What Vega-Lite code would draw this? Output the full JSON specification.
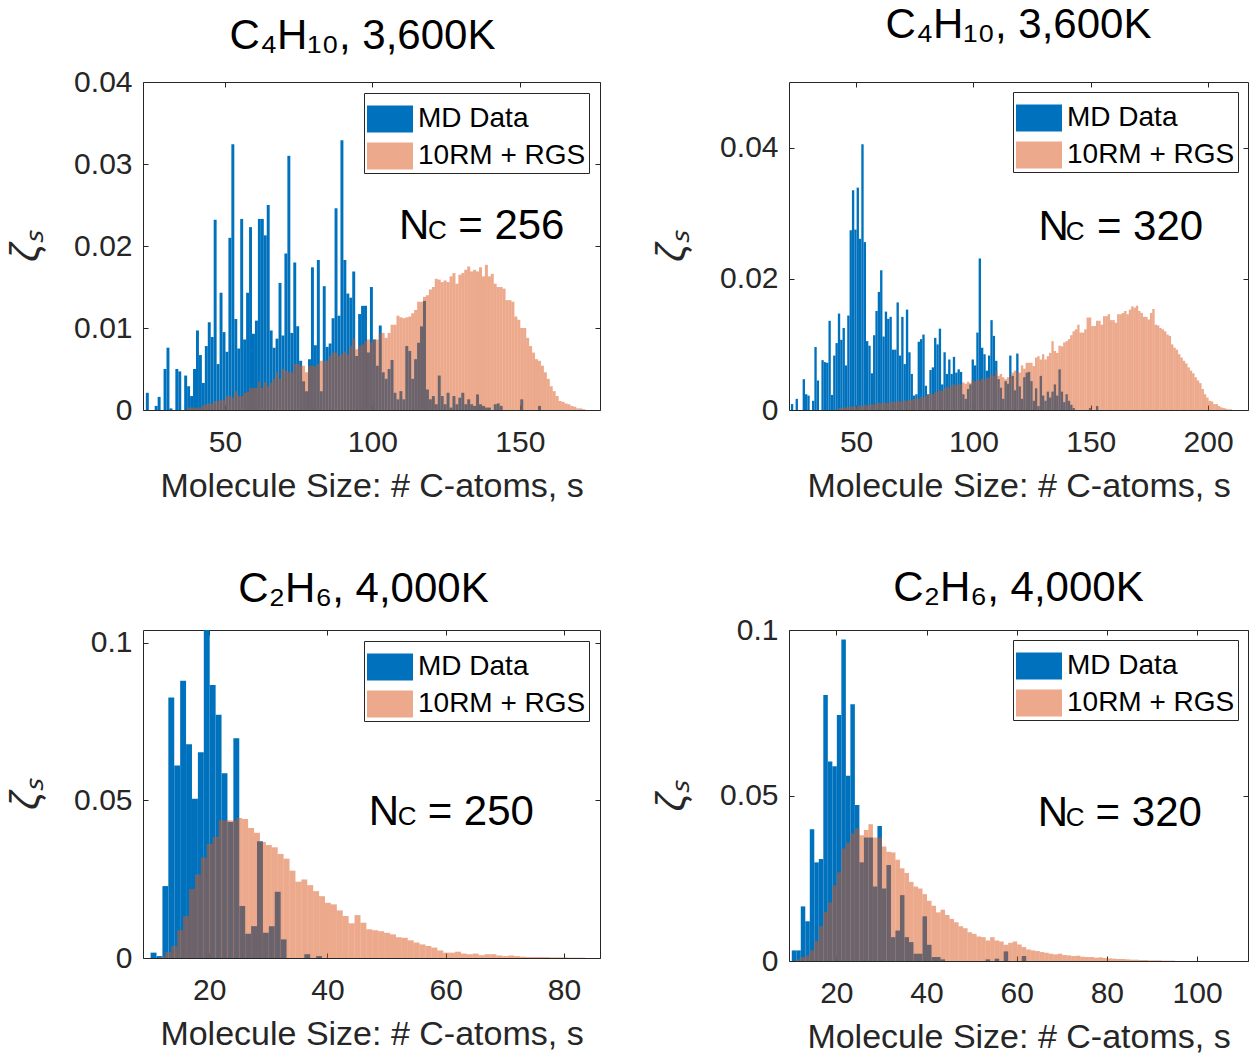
{
  "$schema": "https://vega.github.io/schema/vega-lite/v6.json",
  "background": "white",
  "padding": {"left": 6, "top": 3, "right": 0, "bottom": 0},
  "bounds": "flush",
  "columns": 2,
  "spacing": {"row": 220, "column": 189},
  "config": {
    "font": "Liberation Sans",
    "view": {"stroke": "#262626", "strokeWidth": 1},
    "axis": {
      "labelFont": "Liberation Sans", "labelFontSize": 30, "labelColor": "#262626",
      "titleFont": "Liberation Sans", "titleFontSize": 34, "titleFontWeight": "normal", "titleColor": "#262626",
      "grid": false, "domain": false, "tickColor": "#262626", "tickSize": -5, "tickWidth": 1
    },
    "axisBottom": {"labelPadding": 22, "titlePadding": 12},
    "axisLeft": {"labelPadding": 16, "titlePadding": 27, "titleFontSize": 40},
    "legend": {
      "orient": "top-right", "offset": 11,
      "labelFont": "Liberation Sans", "labelFontSize": 28, "labelColor": "#000000", "labelOffset": 5, "labelLimit": 0,
      "symbolType": "M-1,-0.587H1V0.587H-1Z", "symbolSize": 2116, "symbolStrokeWidth": 0,
      "rowPadding": -1, "padding": 3, "strokeColor": "#262626", "fillColor": "#ffffff", "cornerRadius": 0
    },
    "title": {"font": "Liberation Sans", "fontSize": 42, "fontWeight": "normal", "color": "#000000", "anchor": "middle"},
    "text": {"font": "Liberation Sans", "color": "#000000"}
  },
  "datasets": {
    "p1": [
      {"g":"MD Data","s":23,"v":0.0021},{"g":"MD Data","s":26,"v":0.0005},{"g":"MD Data","s":27,"v":0.0016},{"g":"MD Data","s":29,"v":0.0050},{"g":"MD Data","s":30,"v":0.0076},{"g":"MD Data","s":31,"v":0.0002},{"g":"MD Data","s":33,"v":0.0050},{"g":"MD Data","s":34,"v":0.0047},{"g":"MD Data","s":36,"v":0.0042},{"g":"MD Data","s":37,"v":0.0029},{"g":"MD Data","s":38,"v":0.0017},{"g":"MD Data","s":39,"v":0.0050},{"g":"MD Data","s":40,"v":0.0097},{"g":"MD Data","s":41,"v":0.0067},{"g":"MD Data","s":42,"v":0.0033},{"g":"MD Data","s":43,"v":0.0078},{"g":"MD Data","s":44,"v":0.0107},{"g":"MD Data","s":45,"v":0.0089},{"g":"MD Data","s":46,"v":0.0232},{"g":"MD Data","s":47,"v":0.0056},{"g":"MD Data","s":48,"v":0.0143},{"g":"MD Data","s":49,"v":0.0095},{"g":"MD Data","s":50,"v":0.0071},{"g":"MD Data","s":51,"v":0.0210},{"g":"MD Data","s":52,"v":0.0324},{"g":"MD Data","s":53,"v":0.0111},{"g":"MD Data","s":54,"v":0.0075},{"g":"MD Data","s":55,"v":0.0233},{"g":"MD Data","s":56,"v":0.0086},{"g":"MD Data","s":57,"v":0.0143},{"g":"MD Data","s":58,"v":0.0223},{"g":"MD Data","s":59,"v":0.0093},{"g":"MD Data","s":60,"v":0.0109},{"g":"MD Data","s":61,"v":0.0233},{"g":"MD Data","s":62,"v":0.0233},{"g":"MD Data","s":63,"v":0.0213},{"g":"MD Data","s":64,"v":0.0250},{"g":"MD Data","s":65,"v":0.0097},{"g":"MD Data","s":66,"v":0.0076},{"g":"MD Data","s":67,"v":0.0087},{"g":"MD Data","s":68,"v":0.0155},{"g":"MD Data","s":69,"v":0.0091},{"g":"MD Data","s":70,"v":0.0191},{"g":"MD Data","s":71,"v":0.0310},{"g":"MD Data","s":72,"v":0.0094},{"g":"MD Data","s":73,"v":0.0180},{"g":"MD Data","s":74,"v":0.0102},{"g":"MD Data","s":75,"v":0.0060},{"g":"MD Data","s":76,"v":0.0035},{"g":"MD Data","s":77,"v":0.0023},{"g":"MD Data","s":78,"v":0.0062},{"g":"MD Data","s":79,"v":0.0174},{"g":"MD Data","s":80,"v":0.0079},{"g":"MD Data","s":81,"v":0.0183},{"g":"MD Data","s":82,"v":0.0023},{"g":"MD Data","s":83,"v":0.0151},{"g":"MD Data","s":84,"v":0.0077},{"g":"MD Data","s":85,"v":0.0081},{"g":"MD Data","s":86,"v":0.0112},{"g":"MD Data","s":87,"v":0.0246},{"g":"MD Data","s":88,"v":0.0115},{"g":"MD Data","s":89,"v":0.0329},{"g":"MD Data","s":90,"v":0.0183},{"g":"MD Data","s":91,"v":0.0142},{"g":"MD Data","s":92,"v":0.0137},{"g":"MD Data","s":93,"v":0.0169},{"g":"MD Data","s":94,"v":0.0066},{"g":"MD Data","s":95,"v":0.0117},{"g":"MD Data","s":96,"v":0.0127},{"g":"MD Data","s":97,"v":0.0127},{"g":"MD Data","s":98,"v":0.0070},{"g":"MD Data","s":99,"v":0.0150},{"g":"MD Data","s":100,"v":0.0086},{"g":"MD Data","s":101,"v":0.0054},{"g":"MD Data","s":102,"v":0.0103},{"g":"MD Data","s":103,"v":0.0046},{"g":"MD Data","s":104,"v":0.0038},{"g":"MD Data","s":105,"v":0.0050},{"g":"MD Data","s":106,"v":0.0061},{"g":"MD Data","s":107,"v":0.0021},{"g":"MD Data","s":108,"v":0.0013},{"g":"MD Data","s":109,"v":0.0023},{"g":"MD Data","s":110,"v":0.0013},{"g":"MD Data","s":111,"v":0.0078},{"g":"MD Data","s":112,"v":0.0072},{"g":"MD Data","s":113,"v":0.0038},{"g":"MD Data","s":114,"v":0.0062},{"g":"MD Data","s":115,"v":0.0082},{"g":"MD Data","s":116,"v":0.0102},{"g":"MD Data","s":117,"v":0.0133},{"g":"MD Data","s":118,"v":0.0025},{"g":"MD Data","s":119,"v":0.0013},{"g":"MD Data","s":120,"v":0.0017},{"g":"MD Data","s":121,"v":0.0007},{"g":"MD Data","s":122,"v":0.0042},{"g":"MD Data","s":123,"v":0.0017},{"g":"MD Data","s":124,"v":0.0007},{"g":"MD Data","s":125,"v":0.0021},{"g":"MD Data","s":126,"v":0.0003},{"g":"MD Data","s":127,"v":0.0017},{"g":"MD Data","s":128,"v":0.0007},{"g":"MD Data","s":129,"v":0.0015},{"g":"MD Data","s":130,"v":0.0021},{"g":"MD Data","s":131,"v":0.0007},{"g":"MD Data","s":132,"v":0.0013},{"g":"MD Data","s":133,"v":0.0007},{"g":"MD Data","s":134,"v":0.0005},{"g":"MD Data","s":135,"v":0.0019},{"g":"MD Data","s":136,"v":0.0007},{"g":"MD Data","s":137,"v":0.0005},{"g":"MD Data","s":138,"v":0.0003},{"g":"MD Data","s":139,"v":0.0003},{"g":"MD Data","s":141,"v":0.0007},{"g":"MD Data","s":142,"v":0.0008},{"g":"MD Data","s":143,"v":0.0005},{"g":"MD Data","s":150,"v":0.0013},{"g":"MD Data","s":156,"v":0.0005},
      {"g":"10RM + RGS","s":37,"v":0.0003},{"g":"10RM + RGS","s":38,"v":0.0003},{"g":"10RM + RGS","s":39,"v":0.0003},{"g":"10RM + RGS","s":40,"v":0.0003},{"g":"10RM + RGS","s":41,"v":0.0003},{"g":"10RM + RGS","s":42,"v":0.0006},{"g":"10RM + RGS","s":43,"v":0.0007},{"g":"10RM + RGS","s":44,"v":0.0008},{"g":"10RM + RGS","s":45,"v":0.0008},{"g":"10RM + RGS","s":46,"v":0.0011},{"g":"10RM + RGS","s":47,"v":0.0011},{"g":"10RM + RGS","s":48,"v":0.0012},{"g":"10RM + RGS","s":49,"v":0.0012},{"g":"10RM + RGS","s":50,"v":0.0017},{"g":"10RM + RGS","s":51,"v":0.0017},{"g":"10RM + RGS","s":52,"v":0.0015},{"g":"10RM + RGS","s":53,"v":0.0023},{"g":"10RM + RGS","s":54,"v":0.0017},{"g":"10RM + RGS","s":55,"v":0.0017},{"g":"10RM + RGS","s":56,"v":0.0021},{"g":"10RM + RGS","s":57,"v":0.0022},{"g":"10RM + RGS","s":58,"v":0.0027},{"g":"10RM + RGS","s":59,"v":0.0027},{"g":"10RM + RGS","s":60,"v":0.0027},{"g":"10RM + RGS","s":61,"v":0.0035},{"g":"10RM + RGS","s":62,"v":0.0027},{"g":"10RM + RGS","s":63,"v":0.0034},{"g":"10RM + RGS","s":64,"v":0.0029},{"g":"10RM + RGS","s":65,"v":0.0033},{"g":"10RM + RGS","s":66,"v":0.0038},{"g":"10RM + RGS","s":67,"v":0.0046},{"g":"10RM + RGS","s":68,"v":0.0038},{"g":"10RM + RGS","s":69,"v":0.0050},{"g":"10RM + RGS","s":70,"v":0.0048},{"g":"10RM + RGS","s":71,"v":0.0046},{"g":"10RM + RGS","s":72,"v":0.0046},{"g":"10RM + RGS","s":73,"v":0.0056},{"g":"10RM + RGS","s":74,"v":0.0056},{"g":"10RM + RGS","s":75,"v":0.0054},{"g":"10RM + RGS","s":76,"v":0.0054},{"g":"10RM + RGS","s":77,"v":0.0046},{"g":"10RM + RGS","s":78,"v":0.0054},{"g":"10RM + RGS","s":79,"v":0.0054},{"g":"10RM + RGS","s":80,"v":0.0053},{"g":"10RM + RGS","s":81,"v":0.0056},{"g":"10RM + RGS","s":82,"v":0.0060},{"g":"10RM + RGS","s":83,"v":0.0060},{"g":"10RM + RGS","s":84,"v":0.0060},{"g":"10RM + RGS","s":85,"v":0.0066},{"g":"10RM + RGS","s":86,"v":0.0070},{"g":"10RM + RGS","s":87,"v":0.0070},{"g":"10RM + RGS","s":88,"v":0.0066},{"g":"10RM + RGS","s":89,"v":0.0068},{"g":"10RM + RGS","s":90,"v":0.0071},{"g":"10RM + RGS","s":91,"v":0.0068},{"g":"10RM + RGS","s":92,"v":0.0078},{"g":"10RM + RGS","s":93,"v":0.0087},{"g":"10RM + RGS","s":94,"v":0.0074},{"g":"10RM + RGS","s":95,"v":0.0078},{"g":"10RM + RGS","s":96,"v":0.0080},{"g":"10RM + RGS","s":97,"v":0.0084},{"g":"10RM + RGS","s":98,"v":0.0086},{"g":"10RM + RGS","s":99,"v":0.0082},{"g":"10RM + RGS","s":100,"v":0.0086},{"g":"10RM + RGS","s":101,"v":0.0086},{"g":"10RM + RGS","s":102,"v":0.0093},{"g":"10RM + RGS","s":103,"v":0.0094},{"g":"10RM + RGS","s":104,"v":0.0088},{"g":"10RM + RGS","s":105,"v":0.0094},{"g":"10RM + RGS","s":106,"v":0.0104},{"g":"10RM + RGS","s":107,"v":0.0104},{"g":"10RM + RGS","s":108,"v":0.0115},{"g":"10RM + RGS","s":109,"v":0.0113},{"g":"10RM + RGS","s":110,"v":0.0112},{"g":"10RM + RGS","s":111,"v":0.0113},{"g":"10RM + RGS","s":112,"v":0.0114},{"g":"10RM + RGS","s":113,"v":0.0118},{"g":"10RM + RGS","s":114,"v":0.0122},{"g":"10RM + RGS","s":115,"v":0.0132},{"g":"10RM + RGS","s":116,"v":0.0132},{"g":"10RM + RGS","s":117,"v":0.0138},{"g":"10RM + RGS","s":118,"v":0.0140},{"g":"10RM + RGS","s":119,"v":0.0147},{"g":"10RM + RGS","s":120,"v":0.0150},{"g":"10RM + RGS","s":121,"v":0.0160},{"g":"10RM + RGS","s":122,"v":0.0159},{"g":"10RM + RGS","s":123,"v":0.0156},{"g":"10RM + RGS","s":124,"v":0.0158},{"g":"10RM + RGS","s":125,"v":0.0156},{"g":"10RM + RGS","s":126,"v":0.0163},{"g":"10RM + RGS","s":127,"v":0.0167},{"g":"10RM + RGS","s":128,"v":0.0154},{"g":"10RM + RGS","s":129,"v":0.0165},{"g":"10RM + RGS","s":130,"v":0.0167},{"g":"10RM + RGS","s":131,"v":0.0171},{"g":"10RM + RGS","s":132,"v":0.0175},{"g":"10RM + RGS","s":133,"v":0.0169},{"g":"10RM + RGS","s":134,"v":0.0171},{"g":"10RM + RGS","s":135,"v":0.0169},{"g":"10RM + RGS","s":136,"v":0.0174},{"g":"10RM + RGS","s":137,"v":0.0163},{"g":"10RM + RGS","s":138,"v":0.0177},{"g":"10RM + RGS","s":139,"v":0.0163},{"g":"10RM + RGS","s":140,"v":0.0166},{"g":"10RM + RGS","s":141,"v":0.0154},{"g":"10RM + RGS","s":142,"v":0.0150},{"g":"10RM + RGS","s":143,"v":0.0150},{"g":"10RM + RGS","s":144,"v":0.0148},{"g":"10RM + RGS","s":145,"v":0.0134},{"g":"10RM + RGS","s":146,"v":0.0134},{"g":"10RM + RGS","s":147,"v":0.0132},{"g":"10RM + RGS","s":148,"v":0.0114},{"g":"10RM + RGS","s":149,"v":0.0110},{"g":"10RM + RGS","s":150,"v":0.0100},{"g":"10RM + RGS","s":151,"v":0.0100},{"g":"10RM + RGS","s":152,"v":0.0088},{"g":"10RM + RGS","s":153,"v":0.0078},{"g":"10RM + RGS","s":154,"v":0.0070},{"g":"10RM + RGS","s":155,"v":0.0062},{"g":"10RM + RGS","s":156,"v":0.0060},{"g":"10RM + RGS","s":157,"v":0.0054},{"g":"10RM + RGS","s":158,"v":0.0046},{"g":"10RM + RGS","s":159,"v":0.0038},{"g":"10RM + RGS","s":160,"v":0.0029},{"g":"10RM + RGS","s":161,"v":0.0023},{"g":"10RM + RGS","s":162,"v":0.0017},{"g":"10RM + RGS","s":163,"v":0.0011},{"g":"10RM + RGS","s":164,"v":0.0010},{"g":"10RM + RGS","s":165,"v":0.0008},{"g":"10RM + RGS","s":166,"v":0.0007},{"g":"10RM + RGS","s":167,"v":0.0005},{"g":"10RM + RGS","s":168,"v":0.0004},{"g":"10RM + RGS","s":169,"v":0.0002},{"g":"10RM + RGS","s":170,"v":0.0002},{"g":"10RM + RGS","s":171,"v":0.0001}
    ],
    "p2": [
      {"g":"MD Data","s":22,"v":0.0009},{"g":"MD Data","s":24,"v":0.0017},{"g":"MD Data","s":27,"v":0.0047},{"g":"MD Data","s":28,"v":0.0024},{"g":"MD Data","s":29,"v":0.0022},{"g":"MD Data","s":31,"v":0.0014},{"g":"MD Data","s":32,"v":0.0096},{"g":"MD Data","s":33,"v":0.0045},{"g":"MD Data","s":35,"v":0.0076},{"g":"MD Data","s":36,"v":0.0073},{"g":"MD Data","s":37,"v":0.0072},{"g":"MD Data","s":38,"v":0.0136},{"g":"MD Data","s":39,"v":0.0023},{"g":"MD Data","s":40,"v":0.0083},{"g":"MD Data","s":41,"v":0.0102},{"g":"MD Data","s":42,"v":0.0147},{"g":"MD Data","s":43,"v":0.0107},{"g":"MD Data","s":44,"v":0.0125},{"g":"MD Data","s":45,"v":0.0068},{"g":"MD Data","s":46,"v":0.0144},{"g":"MD Data","s":47,"v":0.0274},{"g":"MD Data","s":48,"v":0.0335},{"g":"MD Data","s":49,"v":0.0275},{"g":"MD Data","s":50,"v":0.0339},{"g":"MD Data","s":51,"v":0.0261},{"g":"MD Data","s":52,"v":0.0405},{"g":"MD Data","s":53,"v":0.0256},{"g":"MD Data","s":54,"v":0.0105},{"g":"MD Data","s":55,"v":0.0098},{"g":"MD Data","s":56,"v":0.0056},{"g":"MD Data","s":57,"v":0.0114},{"g":"MD Data","s":58,"v":0.0151},{"g":"MD Data","s":59,"v":0.0180},{"g":"MD Data","s":60,"v":0.0213},{"g":"MD Data","s":61,"v":0.0112},{"g":"MD Data","s":62,"v":0.0150},{"g":"MD Data","s":63,"v":0.0139},{"g":"MD Data","s":64,"v":0.0142},{"g":"MD Data","s":65,"v":0.0092},{"g":"MD Data","s":66,"v":0.0092},{"g":"MD Data","s":67,"v":0.0164},{"g":"MD Data","s":68,"v":0.0083},{"g":"MD Data","s":69,"v":0.0142},{"g":"MD Data","s":70,"v":0.0070},{"g":"MD Data","s":71,"v":0.0153},{"g":"MD Data","s":72,"v":0.0088},{"g":"MD Data","s":73,"v":0.0055},{"g":"MD Data","s":74,"v":0.0022},{"g":"MD Data","s":75,"v":0.0024},{"g":"MD Data","s":76,"v":0.0104},{"g":"MD Data","s":77,"v":0.0108},{"g":"MD Data","s":78,"v":0.0115},{"g":"MD Data","s":79,"v":0.0037},{"g":"MD Data","s":80,"v":0.0024},{"g":"MD Data","s":81,"v":0.0061},{"g":"MD Data","s":82,"v":0.0065},{"g":"MD Data","s":83,"v":0.0110},{"g":"MD Data","s":84,"v":0.0100},{"g":"MD Data","s":85,"v":0.0124},{"g":"MD Data","s":86,"v":0.0039},{"g":"MD Data","s":87,"v":0.0088},{"g":"MD Data","s":88,"v":0.0055},{"g":"MD Data","s":89,"v":0.0077},{"g":"MD Data","s":90,"v":0.0055},{"g":"MD Data","s":91,"v":0.0081},{"g":"MD Data","s":92,"v":0.0057},{"g":"MD Data","s":93,"v":0.0062},{"g":"MD Data","s":94,"v":0.0058},{"g":"MD Data","s":95,"v":0.0024},{"g":"MD Data","s":96,"v":0.0017},{"g":"MD Data","s":97,"v":0.0032},{"g":"MD Data","s":98,"v":0.0039},{"g":"MD Data","s":99,"v":0.0077},{"g":"MD Data","s":100,"v":0.0068},{"g":"MD Data","s":101,"v":0.0118},{"g":"MD Data","s":102,"v":0.0231},{"g":"MD Data","s":103,"v":0.0095},{"g":"MD Data","s":104,"v":0.0085},{"g":"MD Data","s":105,"v":0.0060},{"g":"MD Data","s":106,"v":0.0083},{"g":"MD Data","s":107,"v":0.0137},{"g":"MD Data","s":108,"v":0.0113},{"g":"MD Data","s":109,"v":0.0075},{"g":"MD Data","s":110,"v":0.0047},{"g":"MD Data","s":111,"v":0.0034},{"g":"MD Data","s":112,"v":0.0017},{"g":"MD Data","s":113,"v":0.0044},{"g":"MD Data","s":114,"v":0.0040},{"g":"MD Data","s":115,"v":0.0083},{"g":"MD Data","s":116,"v":0.0052},{"g":"MD Data","s":117,"v":0.0030},{"g":"MD Data","s":118,"v":0.0086},{"g":"MD Data","s":119,"v":0.0036},{"g":"MD Data","s":120,"v":0.0017},{"g":"MD Data","s":121,"v":0.0050},{"g":"MD Data","s":122,"v":0.0057},{"g":"MD Data","s":123,"v":0.0058},{"g":"MD Data","s":124,"v":0.0044},{"g":"MD Data","s":125,"v":0.0014},{"g":"MD Data","s":126,"v":0.0033},{"g":"MD Data","s":127,"v":0.0006},{"g":"MD Data","s":128,"v":0.0052},{"g":"MD Data","s":129,"v":0.0022},{"g":"MD Data","s":130,"v":0.0014},{"g":"MD Data","s":131,"v":0.0028},{"g":"MD Data","s":132,"v":0.0019},{"g":"MD Data","s":133,"v":0.0028},{"g":"MD Data","s":134,"v":0.0039},{"g":"MD Data","s":135,"v":0.0022},{"g":"MD Data","s":136,"v":0.0062},{"g":"MD Data","s":137,"v":0.0028},{"g":"MD Data","s":138,"v":0.0012},{"g":"MD Data","s":139,"v":0.0024},{"g":"MD Data","s":140,"v":0.0014},{"g":"MD Data","s":141,"v":0.0008},{"g":"MD Data","s":142,"v":0.0003},{"g":"MD Data","s":149,"v":0.0003},{"g":"MD Data","s":152,"v":0.0006},
      {"g":"10RM + RGS","s":42,"v":0.0003},{"g":"10RM + RGS","s":43,"v":0.0003},{"g":"10RM + RGS","s":44,"v":0.0004},{"g":"10RM + RGS","s":45,"v":0.0004},{"g":"10RM + RGS","s":46,"v":0.0004},{"g":"10RM + RGS","s":47,"v":0.0005},{"g":"10RM + RGS","s":48,"v":0.0006},{"g":"10RM + RGS","s":49,"v":0.0005},{"g":"10RM + RGS","s":50,"v":0.0006},{"g":"10RM + RGS","s":51,"v":0.0007},{"g":"10RM + RGS","s":52,"v":0.0006},{"g":"10RM + RGS","s":53,"v":0.0008},{"g":"10RM + RGS","s":54,"v":0.0007},{"g":"10RM + RGS","s":55,"v":0.0008},{"g":"10RM + RGS","s":56,"v":0.0009},{"g":"10RM + RGS","s":57,"v":0.0008},{"g":"10RM + RGS","s":58,"v":0.0010},{"g":"10RM + RGS","s":59,"v":0.0011},{"g":"10RM + RGS","s":60,"v":0.0010},{"g":"10RM + RGS","s":61,"v":0.0012},{"g":"10RM + RGS","s":62,"v":0.0011},{"g":"10RM + RGS","s":63,"v":0.0010},{"g":"10RM + RGS","s":64,"v":0.0012},{"g":"10RM + RGS","s":65,"v":0.0013},{"g":"10RM + RGS","s":66,"v":0.0012},{"g":"10RM + RGS","s":67,"v":0.0014},{"g":"10RM + RGS","s":68,"v":0.0013},{"g":"10RM + RGS","s":69,"v":0.0012},{"g":"10RM + RGS","s":70,"v":0.0015},{"g":"10RM + RGS","s":71,"v":0.0014},{"g":"10RM + RGS","s":72,"v":0.0016},{"g":"10RM + RGS","s":73,"v":0.0015},{"g":"10RM + RGS","s":74,"v":0.0017},{"g":"10RM + RGS","s":75,"v":0.0018},{"g":"10RM + RGS","s":76,"v":0.0017},{"g":"10RM + RGS","s":77,"v":0.0020},{"g":"10RM + RGS","s":78,"v":0.0019},{"g":"10RM + RGS","s":79,"v":0.0022},{"g":"10RM + RGS","s":80,"v":0.0023},{"g":"10RM + RGS","s":81,"v":0.0025},{"g":"10RM + RGS","s":82,"v":0.0024},{"g":"10RM + RGS","s":83,"v":0.0027},{"g":"10RM + RGS","s":84,"v":0.0028},{"g":"10RM + RGS","s":85,"v":0.0030},{"g":"10RM + RGS","s":86,"v":0.0029},{"g":"10RM + RGS","s":87,"v":0.0033},{"g":"10RM + RGS","s":88,"v":0.0035},{"g":"10RM + RGS","s":89,"v":0.0034},{"g":"10RM + RGS","s":90,"v":0.0038},{"g":"10RM + RGS","s":91,"v":0.0039},{"g":"10RM + RGS","s":92,"v":0.0037},{"g":"10RM + RGS","s":93,"v":0.0040},{"g":"10RM + RGS","s":94,"v":0.0039},{"g":"10RM + RGS","s":95,"v":0.0042},{"g":"10RM + RGS","s":96,"v":0.0040},{"g":"10RM + RGS","s":97,"v":0.0043},{"g":"10RM + RGS","s":98,"v":0.0041},{"g":"10RM + RGS","s":99,"v":0.0045},{"g":"10RM + RGS","s":100,"v":0.0044},{"g":"10RM + RGS","s":101,"v":0.0046},{"g":"10RM + RGS","s":102,"v":0.0045},{"g":"10RM + RGS","s":103,"v":0.0048},{"g":"10RM + RGS","s":104,"v":0.0046},{"g":"10RM + RGS","s":105,"v":0.0049},{"g":"10RM + RGS","s":106,"v":0.0050},{"g":"10RM + RGS","s":107,"v":0.0054},{"g":"10RM + RGS","s":108,"v":0.0052},{"g":"10RM + RGS","s":109,"v":0.0060},{"g":"10RM + RGS","s":110,"v":0.0052},{"g":"10RM + RGS","s":111,"v":0.0055},{"g":"10RM + RGS","s":112,"v":0.0050},{"g":"10RM + RGS","s":113,"v":0.0047},{"g":"10RM + RGS","s":114,"v":0.0050},{"g":"10RM + RGS","s":115,"v":0.0052},{"g":"10RM + RGS","s":116,"v":0.0057},{"g":"10RM + RGS","s":117,"v":0.0060},{"g":"10RM + RGS","s":118,"v":0.0057},{"g":"10RM + RGS","s":119,"v":0.0057},{"g":"10RM + RGS","s":120,"v":0.0068},{"g":"10RM + RGS","s":121,"v":0.0063},{"g":"10RM + RGS","s":122,"v":0.0072},{"g":"10RM + RGS","s":123,"v":0.0072},{"g":"10RM + RGS","s":124,"v":0.0072},{"g":"10RM + RGS","s":125,"v":0.0067},{"g":"10RM + RGS","s":126,"v":0.0080},{"g":"10RM + RGS","s":127,"v":0.0082},{"g":"10RM + RGS","s":128,"v":0.0077},{"g":"10RM + RGS","s":129,"v":0.0085},{"g":"10RM + RGS","s":130,"v":0.0077},{"g":"10RM + RGS","s":131,"v":0.0082},{"g":"10RM + RGS","s":132,"v":0.0087},{"g":"10RM + RGS","s":133,"v":0.0105},{"g":"10RM + RGS","s":134,"v":0.0090},{"g":"10RM + RGS","s":135,"v":0.0087},{"g":"10RM + RGS","s":136,"v":0.0098},{"g":"10RM + RGS","s":137,"v":0.0097},{"g":"10RM + RGS","s":138,"v":0.0103},{"g":"10RM + RGS","s":139,"v":0.0105},{"g":"10RM + RGS","s":140,"v":0.0108},{"g":"10RM + RGS","s":141,"v":0.0114},{"g":"10RM + RGS","s":142,"v":0.0120},{"g":"10RM + RGS","s":143,"v":0.0123},{"g":"10RM + RGS","s":144,"v":0.0130},{"g":"10RM + RGS","s":145,"v":0.0118},{"g":"10RM + RGS","s":146,"v":0.0118},{"g":"10RM + RGS","s":147,"v":0.0123},{"g":"10RM + RGS","s":148,"v":0.0141},{"g":"10RM + RGS","s":149,"v":0.0141},{"g":"10RM + RGS","s":150,"v":0.0128},{"g":"10RM + RGS","s":151,"v":0.0128},{"g":"10RM + RGS","s":152,"v":0.0136},{"g":"10RM + RGS","s":153,"v":0.0136},{"g":"10RM + RGS","s":154,"v":0.0130},{"g":"10RM + RGS","s":155,"v":0.0143},{"g":"10RM + RGS","s":156,"v":0.0143},{"g":"10RM + RGS","s":157,"v":0.0146},{"g":"10RM + RGS","s":158,"v":0.0137},{"g":"10RM + RGS","s":159,"v":0.0137},{"g":"10RM + RGS","s":160,"v":0.0133},{"g":"10RM + RGS","s":161,"v":0.0146},{"g":"10RM + RGS","s":162,"v":0.0146},{"g":"10RM + RGS","s":163,"v":0.0148},{"g":"10RM + RGS","s":164,"v":0.0151},{"g":"10RM + RGS","s":165,"v":0.0146},{"g":"10RM + RGS","s":166,"v":0.0153},{"g":"10RM + RGS","s":167,"v":0.0158},{"g":"10RM + RGS","s":168,"v":0.0156},{"g":"10RM + RGS","s":169,"v":0.0159},{"g":"10RM + RGS","s":170,"v":0.0151},{"g":"10RM + RGS","s":171,"v":0.0148},{"g":"10RM + RGS","s":172,"v":0.0142},{"g":"10RM + RGS","s":173,"v":0.0142},{"g":"10RM + RGS","s":174,"v":0.0138},{"g":"10RM + RGS","s":175,"v":0.0148},{"g":"10RM + RGS","s":176,"v":0.0154},{"g":"10RM + RGS","s":177,"v":0.0130},{"g":"10RM + RGS","s":178,"v":0.0129},{"g":"10RM + RGS","s":179,"v":0.0125},{"g":"10RM + RGS","s":180,"v":0.0123},{"g":"10RM + RGS","s":181,"v":0.0120},{"g":"10RM + RGS","s":182,"v":0.0115},{"g":"10RM + RGS","s":183,"v":0.0113},{"g":"10RM + RGS","s":184,"v":0.0100},{"g":"10RM + RGS","s":185,"v":0.0095},{"g":"10RM + RGS","s":186,"v":0.0092},{"g":"10RM + RGS","s":187,"v":0.0085},{"g":"10RM + RGS","s":188,"v":0.0080},{"g":"10RM + RGS","s":189,"v":0.0075},{"g":"10RM + RGS","s":190,"v":0.0071},{"g":"10RM + RGS","s":191,"v":0.0065},{"g":"10RM + RGS","s":192,"v":0.0060},{"g":"10RM + RGS","s":193,"v":0.0056},{"g":"10RM + RGS","s":194,"v":0.0050},{"g":"10RM + RGS","s":195,"v":0.0045},{"g":"10RM + RGS","s":196,"v":0.0041},{"g":"10RM + RGS","s":197,"v":0.0032},{"g":"10RM + RGS","s":198,"v":0.0024},{"g":"10RM + RGS","s":199,"v":0.0019},{"g":"10RM + RGS","s":200,"v":0.0014},{"g":"10RM + RGS","s":201,"v":0.0013},{"g":"10RM + RGS","s":202,"v":0.0009},{"g":"10RM + RGS","s":203,"v":0.0009},{"g":"10RM + RGS","s":204,"v":0.0006},{"g":"10RM + RGS","s":205,"v":0.0004},{"g":"10RM + RGS","s":206,"v":0.0003},{"g":"10RM + RGS","s":207,"v":0.0002},{"g":"10RM + RGS","s":208,"v":0.0001},{"g":"10RM + RGS","s":209,"v":0.0001}
    ],
    "p3": [
      {"g":"MD Data","s":10,"v":0.0017},{"g":"MD Data","s":11,"v":0.0006},{"g":"MD Data","s":12,"v":0.0228},{"g":"MD Data","s":13,"v":0.0826},{"g":"MD Data","s":14,"v":0.0610},{"g":"MD Data","s":15,"v":0.0879},{"g":"MD Data","s":16,"v":0.0678},{"g":"MD Data","s":17,"v":0.0505},{"g":"MD Data","s":18,"v":0.0652},{"g":"MD Data","s":19,"v":0.1040},{"g":"MD Data","s":20,"v":0.0866},{"g":"MD Data","s":21,"v":0.0771},{"g":"MD Data","s":22,"v":0.0586},{"g":"MD Data","s":23,"v":0.0431},{"g":"MD Data","s":24,"v":0.0697},{"g":"MD Data","s":25,"v":0.0165},{"g":"MD Data","s":26,"v":0.0077},{"g":"MD Data","s":27,"v":0.0101},{"g":"MD Data","s":28,"v":0.0370},{"g":"MD Data","s":29,"v":0.0080},{"g":"MD Data","s":30,"v":0.0101},{"g":"MD Data","s":31,"v":0.0210},{"g":"MD Data","s":32,"v":0.0059},{"g":"MD Data","s":36,"v":0.0012},{"g":"MD Data","s":38,"v":0.0006},
      {"g":"10RM + RGS","s":11.5,"v":0.0004},{"g":"10RM + RGS","s":12.5,"v":0.0019},{"g":"10RM + RGS","s":13.5,"v":0.0038},{"g":"10RM + RGS","s":14.5,"v":0.0088},{"g":"10RM + RGS","s":15.5,"v":0.0133},{"g":"10RM + RGS","s":16.5,"v":0.0219},{"g":"10RM + RGS","s":17.5,"v":0.0265},{"g":"10RM + RGS","s":18.5,"v":0.0318},{"g":"10RM + RGS","s":19.5,"v":0.0362},{"g":"10RM + RGS","s":20.5,"v":0.0384},{"g":"10RM + RGS","s":21.5,"v":0.0437},{"g":"10RM + RGS","s":22.5,"v":0.0437},{"g":"10RM + RGS","s":23.5,"v":0.0436},{"g":"10RM + RGS","s":24.5,"v":0.0444},{"g":"10RM + RGS","s":25.5,"v":0.0441},{"g":"10RM + RGS","s":26.5,"v":0.0412},{"g":"10RM + RGS","s":27.5,"v":0.0397},{"g":"10RM + RGS","s":28.5,"v":0.0368},{"g":"10RM + RGS","s":29.5,"v":0.0358},{"g":"10RM + RGS","s":30.5,"v":0.0351},{"g":"10RM + RGS","s":31.5,"v":0.0330},{"g":"10RM + RGS","s":32.5,"v":0.0315},{"g":"10RM + RGS","s":33.5,"v":0.0277},{"g":"10RM + RGS","s":34.5,"v":0.0242},{"g":"10RM + RGS","s":35.5,"v":0.0249},{"g":"10RM + RGS","s":36.5,"v":0.0231},{"g":"10RM + RGS","s":37.5,"v":0.0212},{"g":"10RM + RGS","s":38.5,"v":0.0196},{"g":"10RM + RGS","s":39.5,"v":0.0175},{"g":"10RM + RGS","s":40.5,"v":0.0170},{"g":"10RM + RGS","s":41.5,"v":0.0151},{"g":"10RM + RGS","s":42.5,"v":0.0133},{"g":"10RM + RGS","s":43.5,"v":0.0110},{"g":"10RM + RGS","s":44.5,"v":0.0136},{"g":"10RM + RGS","s":45.5,"v":0.0112},{"g":"10RM + RGS","s":46.5,"v":0.0091},{"g":"10RM + RGS","s":47.5,"v":0.0088},{"g":"10RM + RGS","s":48.5,"v":0.0085},{"g":"10RM + RGS","s":49.5,"v":0.0080},{"g":"10RM + RGS","s":50.5,"v":0.0075},{"g":"10RM + RGS","s":51.5,"v":0.0066},{"g":"10RM + RGS","s":52.5,"v":0.0064},{"g":"10RM + RGS","s":53.5,"v":0.0056},{"g":"10RM + RGS","s":54.5,"v":0.0049},{"g":"10RM + RGS","s":55.5,"v":0.0043},{"g":"10RM + RGS","s":56.5,"v":0.0038},{"g":"10RM + RGS","s":57.5,"v":0.0033},{"g":"10RM + RGS","s":58.5,"v":0.0024},{"g":"10RM + RGS","s":59.5,"v":0.0017},{"g":"10RM + RGS","s":60.5,"v":0.0017},{"g":"10RM + RGS","s":61.5,"v":0.0020},{"g":"10RM + RGS","s":62.5,"v":0.0014},{"g":"10RM + RGS","s":63.5,"v":0.0012},{"g":"10RM + RGS","s":64.5,"v":0.0014},{"g":"10RM + RGS","s":65.5,"v":0.0009},{"g":"10RM + RGS","s":66.5,"v":0.0012},{"g":"10RM + RGS","s":67.5,"v":0.0012},{"g":"10RM + RGS","s":68.5,"v":0.0008},{"g":"10RM + RGS","s":69.5,"v":0.0006},{"g":"10RM + RGS","s":70.5,"v":0.0008},{"g":"10RM + RGS","s":71.5,"v":0.0006},{"g":"10RM + RGS","s":72.5,"v":0.0004},{"g":"10RM + RGS","s":73.5,"v":0.0003},{"g":"10RM + RGS","s":74.5,"v":0.0003},{"g":"10RM + RGS","s":75.5,"v":0.0003},{"g":"10RM + RGS","s":76.5,"v":0.0003},{"g":"10RM + RGS","s":77.5,"v":0.0002},{"g":"10RM + RGS","s":78.5,"v":0.0002},{"g":"10RM + RGS","s":79.5,"v":0.0002},{"g":"10RM + RGS","s":80.5,"v":0.0001},{"g":"10RM + RGS","s":81.5,"v":0.0001},{"g":"10RM + RGS","s":82.5,"v":0.0001}
    ],
    "p4": [
      {"g":"MD Data","s":10,"v":0.0032},{"g":"MD Data","s":11,"v":0.0032},{"g":"MD Data","s":12,"v":0.0165},{"g":"MD Data","s":13,"v":0.0120},{"g":"MD Data","s":14,"v":0.0398},{"g":"MD Data","s":15,"v":0.0298},{"g":"MD Data","s":16,"v":0.0308},{"g":"MD Data","s":17,"v":0.0804},{"g":"MD Data","s":18,"v":0.0603},{"g":"MD Data","s":19,"v":0.0588},{"g":"MD Data","s":20,"v":0.0743},{"g":"MD Data","s":21,"v":0.0971},{"g":"MD Data","s":22,"v":0.0560},{"g":"MD Data","s":23,"v":0.0776},{"g":"MD Data","s":24,"v":0.0471},{"g":"MD Data","s":25,"v":0.0298},{"g":"MD Data","s":26,"v":0.0373},{"g":"MD Data","s":27,"v":0.0373},{"g":"MD Data","s":28,"v":0.0225},{"g":"MD Data","s":29,"v":0.0408},{"g":"MD Data","s":30,"v":0.0219},{"g":"MD Data","s":31,"v":0.0290},{"g":"MD Data","s":32,"v":0.0072},{"g":"MD Data","s":33,"v":0.0092},{"g":"MD Data","s":34,"v":0.0199},{"g":"MD Data","s":35,"v":0.0072},{"g":"MD Data","s":36,"v":0.0057},{"g":"MD Data","s":37,"v":0.0022},{"g":"MD Data","s":38,"v":0.0022},{"g":"MD Data","s":39,"v":0.0135},{"g":"MD Data","s":40,"v":0.0049},{"g":"MD Data","s":41,"v":0.0012},{"g":"MD Data","s":42,"v":0.0012},{"g":"MD Data","s":43,"v":0.0005},{"g":"MD Data","s":53,"v":0.0005},{"g":"MD Data","s":55,"v":0.0007},{"g":"MD Data","s":57,"v":0.0029},{"g":"MD Data","s":61,"v":0.0015},
      {"g":"10RM + RGS","s":11,"v":0.0005},{"g":"10RM + RGS","s":12,"v":0.0012},{"g":"10RM + RGS","s":13,"v":0.0017},{"g":"10RM + RGS","s":14,"v":0.0032},{"g":"10RM + RGS","s":15,"v":0.0060},{"g":"10RM + RGS","s":16,"v":0.0105},{"g":"10RM + RGS","s":17,"v":0.0149},{"g":"10RM + RGS","s":18,"v":0.0177},{"g":"10RM + RGS","s":19,"v":0.0229},{"g":"10RM + RGS","s":20,"v":0.0268},{"g":"10RM + RGS","s":21,"v":0.0340},{"g":"10RM + RGS","s":22,"v":0.0358},{"g":"10RM + RGS","s":23,"v":0.0385},{"g":"10RM + RGS","s":24,"v":0.0400},{"g":"10RM + RGS","s":25,"v":0.0380},{"g":"10RM + RGS","s":26,"v":0.0396},{"g":"10RM + RGS","s":27,"v":0.0413},{"g":"10RM + RGS","s":28,"v":0.0373},{"g":"10RM + RGS","s":29,"v":0.0373},{"g":"10RM + RGS","s":30,"v":0.0346},{"g":"10RM + RGS","s":31,"v":0.0330},{"g":"10RM + RGS","s":32,"v":0.0328},{"g":"10RM + RGS","s":33,"v":0.0306},{"g":"10RM + RGS","s":34,"v":0.0280},{"g":"10RM + RGS","s":35,"v":0.0266},{"g":"10RM + RGS","s":36,"v":0.0239},{"g":"10RM + RGS","s":37,"v":0.0225},{"g":"10RM + RGS","s":38,"v":0.0219},{"g":"10RM + RGS","s":39,"v":0.0202},{"g":"10RM + RGS","s":40,"v":0.0182},{"g":"10RM + RGS","s":41,"v":0.0167},{"g":"10RM + RGS","s":42,"v":0.0147},{"g":"10RM + RGS","s":43,"v":0.0155},{"g":"10RM + RGS","s":44,"v":0.0139},{"g":"10RM + RGS","s":45,"v":0.0127},{"g":"10RM + RGS","s":46,"v":0.0117},{"g":"10RM + RGS","s":47,"v":0.0105},{"g":"10RM + RGS","s":48,"v":0.0099},{"g":"10RM + RGS","s":49,"v":0.0087},{"g":"10RM + RGS","s":50,"v":0.0082},{"g":"10RM + RGS","s":51,"v":0.0074},{"g":"10RM + RGS","s":52,"v":0.0072},{"g":"10RM + RGS","s":53,"v":0.0062},{"g":"10RM + RGS","s":54,"v":0.0072},{"g":"10RM + RGS","s":55,"v":0.0062},{"g":"10RM + RGS","s":56,"v":0.0059},{"g":"10RM + RGS","s":57,"v":0.0049},{"g":"10RM + RGS","s":58,"v":0.0055},{"g":"10RM + RGS","s":59,"v":0.0059},{"g":"10RM + RGS","s":60,"v":0.0050},{"g":"10RM + RGS","s":61,"v":0.0042},{"g":"10RM + RGS","s":62,"v":0.0035},{"g":"10RM + RGS","s":63,"v":0.0032},{"g":"10RM + RGS","s":64,"v":0.0030},{"g":"10RM + RGS","s":65,"v":0.0027},{"g":"10RM + RGS","s":66,"v":0.0025},{"g":"10RM + RGS","s":67,"v":0.0022},{"g":"10RM + RGS","s":68,"v":0.0020},{"g":"10RM + RGS","s":69,"v":0.0022},{"g":"10RM + RGS","s":70,"v":0.0018},{"g":"10RM + RGS","s":71,"v":0.0017},{"g":"10RM + RGS","s":72,"v":0.0015},{"g":"10RM + RGS","s":73,"v":0.0016},{"g":"10RM + RGS","s":74,"v":0.0013},{"g":"10RM + RGS","s":75,"v":0.0012},{"g":"10RM + RGS","s":76,"v":0.0012},{"g":"10RM + RGS","s":77,"v":0.0010},{"g":"10RM + RGS","s":78,"v":0.0011},{"g":"10RM + RGS","s":79,"v":0.0009},{"g":"10RM + RGS","s":80,"v":0.0008},{"g":"10RM + RGS","s":81,"v":0.0007},{"g":"10RM + RGS","s":82,"v":0.0006},{"g":"10RM + RGS","s":83,"v":0.0006},{"g":"10RM + RGS","s":84,"v":0.0005},{"g":"10RM + RGS","s":85,"v":0.0004},{"g":"10RM + RGS","s":86,"v":0.0004},{"g":"10RM + RGS","s":87,"v":0.0003},{"g":"10RM + RGS","s":88,"v":0.0003},{"g":"10RM + RGS","s":89,"v":0.0002},{"g":"10RM + RGS","s":90,"v":0.0002},{"g":"10RM + RGS","s":91,"v":0.0002},{"g":"10RM + RGS","s":92,"v":0.0001},{"g":"10RM + RGS","s":93,"v":0.0001},{"g":"10RM + RGS","s":94,"v":0.0001}
    ]
  },
  "resolve": {"scale": {"color": "independent", "opacity": "independent"}},
  "concat": [
    {
      "title": {"text": "C₄H₁₀, 3,600K", "offset": 9, "dx": -9},
      "width": 457, "height": 328,
      "layer": [
        {
          "data": {"name": "p1"},
          "mark": {"type": "bar", "binSpacing": 0, "clip": true},
          "encoding": {
            "x": {"field": "s", "type": "quantitative", "bin": {"binned": true, "step": 1}, "scale": {"domain": [22.2, 177.2], "nice": false, "zero": false}, "axis": {"values": [50, 100, 150], "title": "Molecule Size: # C-atoms, s"}},
            "y": {"field": "v", "type": "quantitative", "stack": null, "scale": {"domain": [0, 0.04], "nice": false}, "axis": {"values": [0, 0.01, 0.02, 0.03, 0.04], "format": "~g", "title": "ζₛ", "titleFontStyle": "italic"}},
            "color": {"field": "g", "type": "nominal", "scale": {"domain": ["MD Data", "10RM + RGS"], "range": ["#0072BD", "#D95319"]}, "legend": {"title": null}},
            "opacity": {"field": "g", "type": "nominal", "scale": {"domain": ["MD Data", "10RM + RGS"], "range": [1, 0.5]}, "legend": {"title": null}}
          }
        },
        {
          "data": {"values": [{}]},
          "mark": {"type": "text", "text": "N", "fontSize": 42, "align": "left", "baseline": "alphabetic"},
          "encoding": {
            "x": {"datum": 109, "type": "quantitative", "axis": {"orient": "top", "labels": false, "title": null, "values": [50, 100, 150]}},
            "y": {"datum": 0.0209, "type": "quantitative", "axis": {"orient": "right", "labels": false, "title": null, "values": [0, 0.01, 0.02, 0.03, 0.04]}}
          }
        },
        {
          "data": {"values": [{}]},
          "mark": {"type": "text", "text": "C", "fontSize": 26, "align": "left", "baseline": "alphabetic"},
          "encoding": {"x": {"datum": 118.9, "type": "quantitative", "axis": null}, "y": {"datum": 0.0209, "type": "quantitative", "axis": null}}
        },
        {
          "data": {"values": [{}]},
          "mark": {"type": "text", "text": "= 256", "fontSize": 42, "align": "left", "baseline": "alphabetic"},
          "encoding": {"x": {"datum": 129.1, "type": "quantitative", "axis": null}, "y": {"datum": 0.0209, "type": "quantitative", "axis": null}}
        }
      ],
      "resolve": {"axis": {"x": "independent", "y": "independent"}}
    },
    {
      "title": {"text": "C₄H₁₀, 3,600K", "offset": 35},
      "width": 459, "height": 328,
      "layer": [
        {
          "data": {"name": "p2"},
          "mark": {"type": "bar", "binSpacing": 0, "clip": true},
          "encoding": {
            "x": {"field": "s", "type": "quantitative", "bin": {"binned": true, "step": 1}, "scale": {"domain": [21.4, 217], "nice": false, "zero": false}, "axis": {"values": [50, 100, 150, 200], "title": "Molecule Size: # C-atoms, s"}},
            "y": {"field": "v", "type": "quantitative", "stack": null, "scale": {"domain": [0, 0.05], "nice": false}, "axis": {"values": [0, 0.02, 0.04], "format": "~g", "title": "ζₛ", "titleFontStyle": "italic"}},
            "color": {"field": "g", "type": "nominal", "scale": {"domain": ["MD Data", "10RM + RGS"], "range": ["#0072BD", "#D95319"]}, "legend": {"title": null, "offset": 10}},
            "opacity": {"field": "g", "type": "nominal", "scale": {"domain": ["MD Data", "10RM + RGS"], "range": [1, 0.5]}, "legend": {"title": null, "offset": 10}}
          }
        },
        {
          "data": {"values": [{}]},
          "mark": {"type": "text", "text": "N", "fontSize": 42, "align": "left", "baseline": "alphabetic"},
          "encoding": {
            "x": {"datum": 127.7, "type": "quantitative", "axis": {"orient": "top", "labels": false, "title": null, "values": [50, 100, 150, 200]}},
            "y": {"datum": 0.0259, "type": "quantitative", "axis": {"orient": "right", "labels": false, "title": null, "values": [0, 0.02, 0.04]}}
          }
        },
        {
          "data": {"values": [{}]},
          "mark": {"type": "text", "text": "C", "fontSize": 26, "align": "left", "baseline": "alphabetic"},
          "encoding": {"x": {"datum": 139.3, "type": "quantitative", "axis": null}, "y": {"datum": 0.0259, "type": "quantitative", "axis": null}}
        },
        {
          "data": {"values": [{}]},
          "mark": {"type": "text", "text": "= 320", "fontSize": 42, "align": "left", "baseline": "alphabetic"},
          "encoding": {"x": {"datum": 152.6, "type": "quantitative", "axis": null}, "y": {"datum": 0.0259, "type": "quantitative", "axis": null}}
        }
      ],
      "resolve": {"axis": {"x": "independent", "y": "independent"}}
    },
    {
      "title": {"text": "C₂H₆, 4,000K", "offset": 17, "dx": -8},
      "width": 457, "height": 328,
      "layer": [
        {
          "data": {"name": "p3"},
          "mark": {"type": "bar", "binSpacing": 0, "clip": true},
          "encoding": {
            "x": {"field": "s", "type": "quantitative", "bin": {"binned": true, "step": 1}, "scale": {"domain": [8.8, 86.1], "nice": false, "zero": false}, "axis": {"values": [20, 40, 60, 80], "title": "Molecule Size: # C-atoms, s"}},
            "y": {"field": "v", "type": "quantitative", "stack": null, "scale": {"domain": [0, 0.104], "nice": false}, "axis": {"values": [0, 0.05, 0.1], "format": "~g", "title": "ζₛ", "titleFontStyle": "italic"}},
            "color": {"field": "g", "type": "nominal", "scale": {"domain": ["MD Data", "10RM + RGS"], "range": ["#0072BD", "#D95319"]}, "legend": {"title": null}},
            "opacity": {"field": "g", "type": "nominal", "scale": {"domain": ["MD Data", "10RM + RGS"], "range": [1, 0.5]}, "legend": {"title": null}}
          }
        },
        {
          "data": {"values": [{}]},
          "mark": {"type": "text", "text": "N", "fontSize": 42, "align": "left", "baseline": "alphabetic"},
          "encoding": {
            "x": {"datum": 47.0, "type": "quantitative", "axis": {"orient": "top", "labels": false, "title": null, "values": [20, 40, 60, 80]}},
            "y": {"datum": 0.0422, "type": "quantitative", "axis": {"orient": "right", "labels": false, "title": null, "values": [0, 0.05, 0.1]}}
          }
        },
        {
          "data": {"values": [{}]},
          "mark": {"type": "text", "text": "C", "fontSize": 26, "align": "left", "baseline": "alphabetic"},
          "encoding": {"x": {"datum": 51.9, "type": "quantitative", "axis": null}, "y": {"datum": 0.0422, "type": "quantitative", "axis": null}}
        },
        {
          "data": {"values": [{}]},
          "mark": {"type": "text", "text": "= 250", "fontSize": 42, "align": "left", "baseline": "alphabetic"},
          "encoding": {"x": {"datum": 56.95, "type": "quantitative", "axis": null}, "y": {"datum": 0.0422, "type": "quantitative", "axis": null}}
        }
      ],
      "resolve": {"axis": {"x": "independent", "y": "independent"}}
    },
    {
      "title": {"text": "C₂H₆, 4,000K", "offset": 5},
      "width": 459, "height": 331,
      "layer": [
        {
          "data": {"name": "p4"},
          "mark": {"type": "bar", "binSpacing": 0, "clip": true},
          "encoding": {
            "x": {"field": "s", "type": "quantitative", "bin": {"binned": true, "step": 1}, "scale": {"domain": [9.5, 111.3], "nice": false, "zero": false}, "axis": {"values": [20, 40, 60, 80, 100], "title": "Molecule Size: # C-atoms, s"}},
            "y": {"field": "v", "type": "quantitative", "stack": null, "scale": {"domain": [0, 0.1], "nice": false}, "axis": {"values": [0, 0.05, 0.1], "format": "~g", "title": "ζₛ", "titleFontStyle": "italic"}},
            "color": {"field": "g", "type": "nominal", "scale": {"domain": ["MD Data", "10RM + RGS"], "range": ["#0072BD", "#D95319"]}, "legend": {"title": null, "offset": 10}},
            "opacity": {"field": "g", "type": "nominal", "scale": {"domain": ["MD Data", "10RM + RGS"], "range": [1, 0.5]}, "legend": {"title": null, "offset": 10}}
          }
        },
        {
          "data": {"values": [{}]},
          "mark": {"type": "text", "text": "N", "fontSize": 42, "align": "left", "baseline": "alphabetic"},
          "encoding": {
            "x": {"datum": 64.65, "type": "quantitative", "axis": {"orient": "top", "labels": false, "title": null, "values": [20, 40, 60, 80, 100]}},
            "y": {"datum": 0.0409, "type": "quantitative", "axis": {"orient": "right", "labels": false, "title": null, "values": [0, 0.05, 0.1]}}
          }
        },
        {
          "data": {"values": [{}]},
          "mark": {"type": "text", "text": "C", "fontSize": 26, "align": "left", "baseline": "alphabetic"},
          "encoding": {"x": {"datum": 70.9, "type": "quantitative", "axis": null}, "y": {"datum": 0.0409, "type": "quantitative", "axis": null}}
        },
        {
          "data": {"values": [{}]},
          "mark": {"type": "text", "text": "= 320", "fontSize": 42, "align": "left", "baseline": "alphabetic"},
          "encoding": {"x": {"datum": 77.5, "type": "quantitative", "axis": null}, "y": {"datum": 0.0409, "type": "quantitative", "axis": null}}
        }
      ],
      "resolve": {"axis": {"x": "independent", "y": "independent"}}
    }
  ]
}
